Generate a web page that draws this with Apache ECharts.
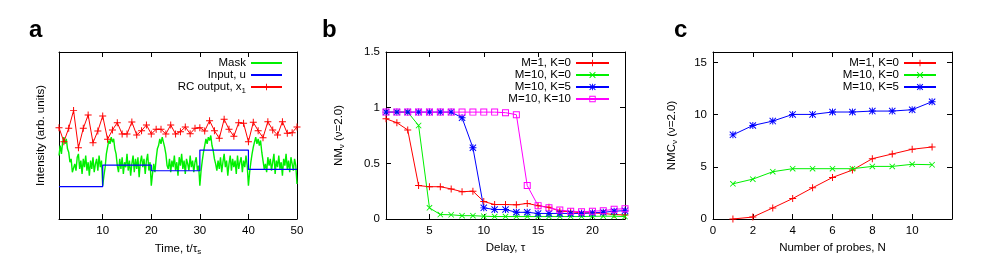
<!DOCTYPE html>
<html><head><meta charset="utf-8">
<script src="https://cdn.jsdelivr.net/npm/echarts@6/dist/echarts.min.js"></script>
<style>html,body{margin:0;padding:0;background:#fff}#c{width:981px;height:261px}</style>
</head><body><div id="c"></div>
<script>
// ---------- Panel a ----------
const maskStart = 1, maskStep = 0.25;
const maskValues = [
 3.8,4.4,3.9,4.6, 4.9,4.5,4.8,4.2, 4.0,3.4,3.6,2.8, 2.7,3.3,2.9,3.7, 3.9,3.0,3.5,2.7,
 3.6,3.1,3.8,2.9, 3.4,2.6,3.5,3.0, 3.7,2.8,3.3,3.6, 2.9,3.8,3.1,3.5, 2.0,2.6,3.1,3.9,
 4.3,4.7,4.5,4.9, 4.6,4.8,4.2,3.9, 3.2,2.8,3.6,3.0, 3.7,2.7,3.4,3.1, 3.9,2.9,3.5,2.6,
 3.3,3.8,2.8,3.6, 3.0,3.7,2.5,3.4, 3.8,3.1,3.6,2.7, 3.5,3.9,2.9,3.4, 2.0,2.7,3.3,2.8,
 3.6,4.2,4.4,4.8, 4.5,4.9,4.6,4.3, 3.9,3.2,3.0,3.6, 2.8,3.5,3.1,3.8, 2.9,3.4,2.6,3.7,
 3.2,3.9,3.0,3.5, 2.7,3.6,3.3,2.9, 3.8,3.1,3.5,2.8, 3.4,3.7,2.9,3.2, 2.0,2.9,3.5,4.0,
 4.4,4.8,4.5,4.9, 4.7,5.0,4.4,4.1, 3.6,3.3,2.9,3.5, 3.0,3.7,2.8,3.4, 3.9,3.1,3.5,2.6,
 3.3,3.8,2.9,3.6, 3.1,3.5,2.7,3.8, 3.0,3.4,3.7,2.8, 3.5,3.1,3.8,3.2, 2.0,2.8,3.4,3.9,
 4.3,4.6,4.9,4.5, 4.8,4.4,4.7,4.0, 3.5,3.0,3.3,2.8, 3.7,3.2,3.6,2.9, 3.4,3.9,2.7,3.5,
 3.1,3.8,3.0,3.4, 2.6,3.6,3.2,3.9, 3.0,3.5,2.8,3.7, 3.3,2.9,3.6,3.2, 2.1
];
const inputTimes = [1, 10, 20, 30, 40, 50];
const inputValues = [1.94, 3.23, 2.89, 4.13, 2.97, 2.97];
const rcTimes = [1,2,3,4,5,6,7,8,9,10,11,12,13,14,15,16,17,18,19,20,21,22,23,24,25,
                 26,27,28,29,30,31,32,33,34,35,36,37,38,39,40,41,42,43,44,45,46,47,48,49,50];
const rcValues = [5.47,4.63,5.43,6.49,4.27,5.43,6.23,4.57,5.27,6.17,4.77,5.33,5.77,5.09,5.09,
                  5.81,5.03,5.29,5.63,5.09,5.37,5.37,5.09,5.63,5.09,5.23,5.51,5.11,5.43,5.47,
                  5.27,5.89,5.29,4.83,5.97,5.37,4.95,5.77,5.73,4.63,5.79,5.29,4.87,5.83,5.33,
                  5.03,5.83,5.13,5.17,5.51];
const aXTicks = [10, 20, 30, 40, 50];

// ---------- Panel b ----------
const delays = [1,2,3,4,5,6,7,8,9,10,11,12,13,14,15,16,17,18,19,20,21,22,23];
const nmM1K0 = [0.90,0.865,0.80,0.30,0.29,0.29,0.27,0.245,0.25,0.157,0.13,0.13,0.127,0.14,0.12,0.105,0.07,0.066,0.055,0.055,0.05,0.04,0.036];
const nmM10K0 = [0.96,0.96,0.96,0.84,0.10,0.04,0.038,0.03,0.03,0.025,0.022,0.022,0.022,0.022,0.022,0.022,0.022,0.022,0.022,0.024,0.025,0.025,0.022];
const nmM10K5 = [0.96,0.96,0.96,0.96,0.96,0.96,0.96,0.91,0.64,0.10,0.085,0.085,0.06,0.06,0.05,0.05,0.05,0.05,0.05,0.055,0.06,0.07,0.075];
const nmM10K10 = [0.96,0.96,0.96,0.96,0.96,0.96,0.96,0.96,0.96,0.96,0.96,0.955,0.937,0.30,0.12,0.10,0.08,0.07,0.065,0.07,0.075,0.087,0.093];
const bXTicks = [5, 10, 15, 20];
const bYTicks = [0, 0.5, 1, 1.5];

// ---------- Panel c ----------
const probes = [1,2,3,4,5,6,7,8,9,10,11];
const nmcM1K0 = [0,0.19,1.06,1.96,2.99,3.98,4.69,5.78,6.23,6.68,6.9];
const nmcM10K0 = [3.37,3.82,4.53,4.82,4.82,4.82,4.82,5.04,5.04,5.24,5.2];
const nmcM10K5 = [8.06,8.96,9.38,10.02,10.02,10.25,10.25,10.34,10.34,10.47,11.24];
const cXTicks = [0, 2, 4, 6, 8, 10];
const cYTicks = [0, 5, 10, 15];

// ---------- helpers ----------
const FONT = '"Liberation Sans", Arial, Helvetica, sans-serif';
const RED = '#ff0000', GREEN = '#00f000', BLUE = '#0000ff', MAG = '#ff00ff';
const SYM_PLUS = 'path://M4.3,0H5.7V10H4.3Z M0,4.3H10V5.7H0Z';
const SYM_X = 'path://M0,1L1,0L10,9L9,10Z M9,0L10,1L1,10L0,9Z';
const SYM_STAR = 'path://M4.3,0H5.7V10H4.3Z M0,4.3H10V5.7H0Z M0,1L1,0L10,9L9,10Z M9,0L10,1L1,10L0,9Z';
const SYM_SQ = 'path://M0,0H10V10H0Z M1.4,1.4V8.6H8.6V1.4Z';
const zip = (xs, ys) => xs.map((x, i) => [x, ys[i]]);
const maskData = maskValues.map((v, i) => [maskStart + i * maskStep, v]);

const rich = {
  n: {fontFamily: FONT, fontSize: 11.5, color: '#000'},
  s: {fontFamily: FONT, fontSize: 8, color: '#000', padding: [7, 0, 0, 0]}
};
const tick = (vals, show) => ({show: show, inside: true, length: 5, lineStyle: {color: '#000', width: 1}, customValues: vals});
const line = {show: true, onZero: false, lineStyle: {color: '#000', width: 1}};

function xAxes(grid, min, max, ticks, labels, name, topTicks) {
  return [
    {type: 'value', gridIndex: grid, position: 'bottom', min: min, max: max,
     axisLine: line, axisTick: tick(ticks, true), splitLine: {show: false},
     axisLabel: {show: true, customValues: labels, margin: 6, color: '#000', fontFamily: FONT, fontSize: 11.5},
     name: name, nameLocation: 'middle', nameGap: 22, nameTextStyle: {rich: rich}},
    {type: 'value', gridIndex: grid, position: 'top', min: min, max: max,
     axisLine: line, axisTick: tick(topTicks, true), splitLine: {show: false}, axisLabel: {show: false}}
  ];
}
function yAxes(grid, min, max, ticks, showLabels, name, gap) {
  return [
    {type: 'value', gridIndex: grid, position: 'left', min: min, max: max,
     axisLine: line, axisTick: tick(ticks || [], !!ticks), splitLine: {show: false},
     axisLabel: {show: showLabels, customValues: ticks || [], margin: 6, color: '#000', fontFamily: FONT, fontSize: 11.5},
     name: name, nameLocation: 'middle', nameGap: gap, nameRotate: 90, nameTextStyle: {rich: rich}},
    {type: 'value', gridIndex: grid, position: 'right', min: min, max: max,
     axisLine: line, axisTick: tick(ticks || [], !!ticks), splitLine: {show: false}, axisLabel: {show: false}}
  ];
}
function ser(name, xi, yi, data, color, symbol, size, extra) {
  return Object.assign({
    name: name, type: 'line', xAxisIndex: xi, yAxisIndex: yi, data: data,
    symbol: symbol, symbolSize: size, showSymbol: symbol !== 'none',
    lineStyle: {color: color, width: 1}, itemStyle: {color: color, borderWidth: 0},
    emphasis: {disabled: true}, silent: true
  }, extra || {});
}
function legend(items, right, itemWidth) {
  return {
    data: items, orient: 'vertical', align: 'right', right: right, top: 57,
    padding: 0, itemGap: 0, itemWidth: itemWidth, itemHeight: 8, selectedMode: false,
    textStyle: {fontFamily: FONT, fontSize: 11.5, color: '#000', lineHeight: 12, rich: rich},
    formatter: function (n) {
      if (n === 'RC output, x1') return '{n|RC output, x}{s|1}';
      return '{n|' + n.trim() + '}';
    }
  };
}

const chart = echarts.init(document.getElementById('c'), null, {renderer: 'canvas'});
chart.setOption({
  animation: false,
  backgroundColor: '#fff',
  title: [
    {text: 'a', left: 29, top: 18, padding: 0, textStyle: {fontFamily: FONT, fontSize: 24, fontWeight: 'bold', color: '#000'}},
    {text: 'b', left: 322, top: 18, padding: 0, textStyle: {fontFamily: FONT, fontSize: 24, fontWeight: 'bold', color: '#000'}},
    {text: 'c', left: 674, top: 18, padding: 0, textStyle: {fontFamily: FONT, fontSize: 24, fontWeight: 'bold', color: '#000'}}
  ],
  grid: [
    {left: 59, top: 52, width: 238, height: 167},
    {left: 386, top: 52, width: 239, height: 167},
    {left: 713, top: 52, width: 239, height: 167}
  ],
  xAxis: [].concat(
    xAxes(0, 1, 50, aXTicks, aXTicks, '{n|Time, t/τ}{s|s}', aXTicks),
    xAxes(1, 1, 23, bXTicks, bXTicks, '{n|Delay, τ}', bXTicks),
    xAxes(2, 0, 12, cXTicks, cXTicks, '{n|Number of probes, N}', cXTicks)
  ),
  yAxis: [].concat(
    yAxes(0, 0, 10, null, false, '{n|Intensity (arb. units)}', 12),
    yAxes(1, 0, 1.5, bYTicks, true, '{n|NM}{s|ν}{n| (ν=2.0)}', 40),
    yAxes(2, 0, 16, cYTicks, true, '{n|NMC}{s|ν}{n| (ν=2.0)}', 34)
  ),
  legend: [
    legend([{name: 'Mask', itemStyle: {opacity: 0}}, {name: 'Input, u', itemStyle: {opacity: 0}}, {name: 'RC output, x1'}], 698, 31),
    legend(['M=1, K=0', 'M=10, K=0', 'M=10, K=5', 'M=10, K=10'].map(n => ({name: n})), 371, 33),
    legend(['M=1, K=0 ', 'M=10, K=0 ', 'M=10, K=5 '].map(n => ({name: n})), 44, 32)
  ],
  series: [
    ser('Mask', 0, 0, maskData, GREEN, 'none', 0, {lineStyle: {color: GREEN, width: 1.4}}),
    ser('Input, u', 0, 0, zip(inputTimes, inputValues), BLUE, 'none', 0, {step: 'end', lineStyle: {color: BLUE, width: 1.2}}),
    ser('RC output, x1', 0, 0, zip(rcTimes, rcValues), RED, SYM_PLUS, 7),

    ser('M=1, K=0', 2, 2, zip(delays, nmM1K0), RED, SYM_PLUS, 7),
    ser('M=10, K=0', 2, 2, zip(delays, nmM10K0), GREEN, SYM_X, 6),
    ser('M=10, K=5', 2, 2, zip(delays, nmM10K5), BLUE, SYM_STAR, 7),
    ser('M=10, K=10', 2, 2, zip(delays, nmM10K10), MAG, SYM_SQ, 7),

    ser('M=1, K=0 ', 4, 4, zip(probes, nmcM1K0), RED, SYM_PLUS, 7),
    ser('M=10, K=0 ', 4, 4, zip(probes, nmcM10K0), GREEN, SYM_X, 6),
    ser('M=10, K=5 ', 4, 4, zip(probes, nmcM10K5), BLUE, SYM_STAR, 7)
  ]
});
</script></body></html>
